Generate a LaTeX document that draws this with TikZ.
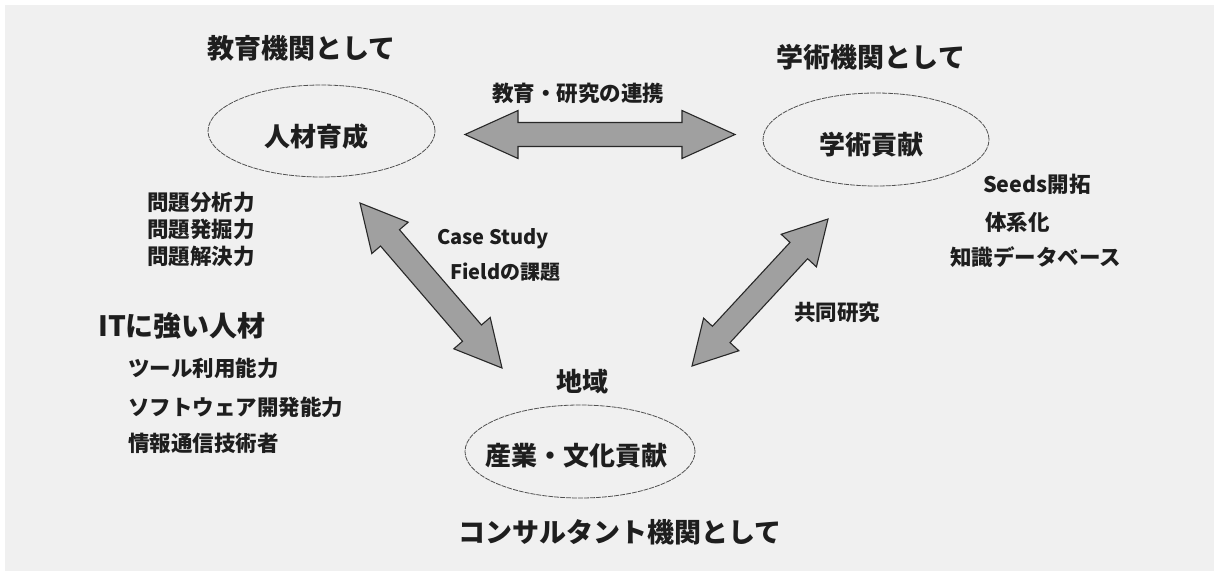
\documentclass[tikz,border=0pt]{standalone}
\usepackage{fontspec}
\setmainfont{Noto Sans CJK JP}
\usetikzlibrary{calc,shapes.geometric}
\definecolor{bgpaper}{RGB}{240,240,240}
\definecolor{arrowfill}{RGB}{160,160,160}
\definecolor{arrowline}{RGB}{40,40,40}
\definecolor{ovalline}{RGB}{80,80,80}
\definecolor{inktext}{RGB}{30,30,30}
\tikzset{
  oval/.style={ellipse, draw=ovalline, line width=0.8pt, dash pattern=on 5pt off 1pt, inner sep=0pt},
  title/.style={inner sep=0pt, text=inktext, font=\bfseries\fontsize{27}{30}\selectfont},
  ovaltext/.style={inner sep=0pt, text=inktext, font=\bfseries\fontsize{26}{30}\selectfont},
  bigtext/.style={inner sep=0pt, text=inktext, font=\bfseries\fontsize{28}{32}\selectfont},
  smalltext/.style={inner sep=0pt, text=inktext, font=\bfseries\fontsize{21.5}{26}\selectfont},
  labeltext/.style={inner sep=0pt, text=inktext, font=\bfseries\fontsize{20}{24}\selectfont},
  blockarrow/.style={fill=arrowfill, draw=arrowline, line width=1.1pt, line join=miter}
}
% #1,#2: tip coordinates, #3 head length, #4 head half width, #5 shaft half width
\newcommand{\blockdbl}[5]{%
  \filldraw[blockarrow] (#1)
    -- ($(#1)!#3!(#2)!#4!90:(#2)$)
    -- ($(#1)!#3!(#2)!#5!90:(#2)$)
    -- ($(#2)!#3!(#1)!#5!-90:(#1)$)
    -- ($(#2)!#3!(#1)!#4!-90:(#1)$)
    -- (#2)
    -- ($(#2)!#3!(#1)!#4!90:(#1)$)
    -- ($(#2)!#3!(#1)!#5!90:(#1)$)
    -- ($(#1)!#3!(#2)!#5!-90:(#2)$)
    -- ($(#1)!#3!(#2)!#4!-90:(#2)$)
    -- cycle;}
\begin{document}
\begin{tikzpicture}[x=1pt,y=-1pt]
\useasboundingbox (0,0) rectangle (1214,571);
\fill[white] (0,0) rectangle (1214,571);
\fill[bgpaper] (5,5) rectangle (1214,571);

% ovals
\node[oval, minimum width=227pt, minimum height=92pt] (jinzai) at (321.5,131) {};
\node[ovaltext] (jinzaiT) at (316,137) {人材育成};
\node[oval, minimum width=226pt, minimum height=93pt] (gakujutsu) at (876,139.5) {};
\node[ovaltext] (gakujutsuT) at (871,145) {学術貢献};
\node[oval, minimum width=230pt, minimum height=93pt] (sangyo) at (580,451.5) {};
\node[ovaltext] (sangyoT) at (576,456) {産業・文化貢献};

% titles
\node[title] (t1) at (301.5,48) {教育機関として};
\node[title] (t2) at (871,57) {学術機関として};
\node[title] (t3) at (620,532) {コンサルタント機関として};
\node[ovaltext] (chiiki) at (582,382) {地域};

% arrow tips
\coordinate (h1) at (465,134.5);
\coordinate (h2) at (735,134.5);
\coordinate (l1) at (360,203);
\coordinate (l2) at (502,368);
\coordinate (r1) at (828,219);
\coordinate (r2) at (692,366);
\blockdbl{h1}{h2}{53pt}{24pt}{12pt}
\blockdbl{l1}{l2}{46pt}{24pt}{12.5pt}
\blockdbl{r1}{r2}{43pt}{24pt}{12pt}

% arrow labels
\node[smalltext] (renkei) at (578,93) {教育・研究の連携};
\node[labeltext, anchor=west] (case) at (437,239) {Case Study};
\node[labeltext, anchor=west] (field) at (450,272) {Fieldの課題};
\node[smalltext] (kyodo) at (837,312) {共同研究};

% right list
\node[smalltext, anchor=west] (seeds) at (983,184) {Seeds開拓};
\node[smalltext, anchor=west] (taikei) at (985,222) {体系化};
\node[smalltext, anchor=west] (chishiki) at (950,257) {知識データベース};

% left lists
\node[smalltext, anchor=west] (m1) at (147,202) {問題分析力};
\node[smalltext, anchor=west] (m2) at (147,229) {問題発掘力};
\node[smalltext, anchor=west] (m3) at (147,256) {問題解決力};
\node[bigtext, anchor=west] (it) at (98,326) {ITに強い人材};
\node[smalltext, anchor=west] (s1) at (128,368) {ツール利用能力};
\node[smalltext, anchor=west] (s2) at (128,407) {ソフトウェア開発能力};
\node[smalltext, anchor=west] (s3) at (128,443) {情報通信技術者};
\end{tikzpicture}
\end{document}
